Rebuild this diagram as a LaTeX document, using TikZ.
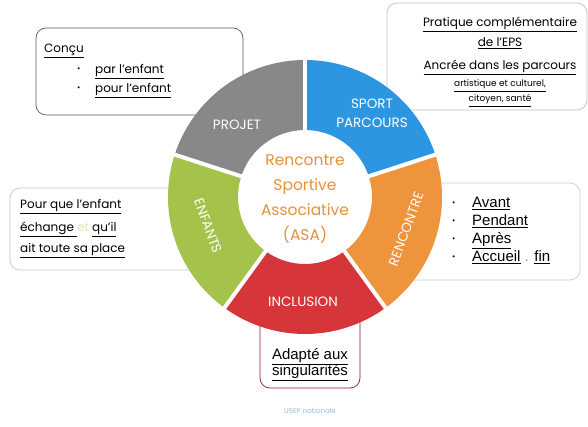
\documentclass[tikz,border=0pt]{standalone}
\usepackage{fontspec}
\setmainfont{Poppins}
\newfontfamily\arialfont{Liberation Sans}
\usetikzlibrary{positioning}
\definecolor{projet}{RGB}{136,136,138}
\definecolor{sport}{RGB}{44,150,226}
\definecolor{rencontre}{RGB}{238,148,60}
\definecolor{inclusion}{RGB}{214,54,58}
\definecolor{enfants}{RGB}{165,194,74}
\definecolor{asa}{RGB}{228,146,58}
\definecolor{usep}{RGB}{150,190,222}
\definecolor{pale}{RGB}{226,226,170}

\begin{document}
\begin{tikzpicture}[x=1pt,y=1pt,
    infobox/.style={draw=#1, fill=white, rounded corners=10pt, line width=0.7pt, inner sep=0pt},
    seglabel/.style={text=white, font=\fontsize{13.5}{19}\selectfont, align=center, inner sep=0pt},
    boxline/.style={anchor=base west, inner sep=0pt, font=\fontsize{12}{14}\selectfont},
    boxlinec/.style={anchor=base, inner sep=0pt, font=\fontsize{12}{14}\selectfont},
    smallline/.style={anchor=base, inner sep=0pt, font=\fontsize{9}{11}\selectfont},
    arialline/.style={anchor=base west, inner sep=0pt, font=\arialfont\fontsize{15}{17}\selectfont},
    dot/.style={anchor=base west, inner sep=0pt, font=\fontsize{8}{9}\selectfont, yshift=2pt},
    gap/.style={white, line width=4pt}
]
    \useasboundingbox (0,0) rectangle (588,427);
    \fill[white] (0,0) rectangle (588,427);

    % Boxes (behind the ring)
    \node[infobox=black!65, minimum width=207pt, minimum height=87pt] (concu) at (139.5,355.5) {};
    \node[infobox=black!25, minimum width=200pt, minimum height=107pt] (pratique) at (487,370.5) {};
    \node[infobox=black!22, minimum width=190pt, minimum height=82pt] (pour) at (105,198) {};
    \node[infobox=rencontre!35!black!25, minimum width=180pt, minimum height=97pt] (avant) at (490,195.5) {};
    \node[infobox=inclusion!60!black, minimum width=100pt, minimum height=78pt] (adapte) at (310,78) {};

    % Ring
    \coordinate (c) at (305,230);
    \foreach \a/\b/\col in {162/90/projet,90/18/sport,18/-54/rencontre,-54/-126/inclusion,-126/-198/enfants}
        \fill[\col] ([shift={(\a:137)}]c) arc[start angle=\a, end angle=\b, radius=137pt]
            -- ([shift={(\b:67)}]c) arc[start angle=\b, end angle=\a, radius=67pt] -- cycle;
    \foreach \a in {90,18,-54,-126,-198}
        \draw[gap] ([shift={(\a:64)}]c) -- ([shift={(\a:140)}]c);

    % Ring labels
    \node[seglabel] (projetl) at (237,302) {PROJET};
    \node[seglabel] (sportl) at (372,314) {SPORT\\PARCOURS};
    \node[seglabel, rotate=70] (rencontrel) at (406,198) {RENCONTRE};
    \node[seglabel] (inclusionl) at (303,125) {INCLUSION};
    \node[seglabel, rotate=-70] (enfantsl) at (208,201) {ENFANTS};
    \node[text=asa, align=center, font=\fontsize{15.5}{25}\selectfont] (asa) at (305,228) {Rencontre\\Sportive\\Associative\\(ASA)};

    % Box texts
    \node[boxline] (concut) at (44,374) {\underline{Conçu}};
    \node[dot] (b1) at (77,353) {\textbullet};
    \node[boxline] (par) at (95,353) {\underline{par l'enfant}};
    \node[dot] (b2) at (77,334) {\textbullet};
    \node[boxline] (pourl) at (95,334) {\underline{pour l'enfant}};

    \node[boxlinec] (p1) at (500,400) {\underline{Pratique complémentaire}};
    \node[boxlinec] (p2) at (500,380) {\underline{de l'EPS}};
    \node[boxlinec] (p3) at (500,357) {\underline{Ancrée dans les parcours}};
    \node[smallline] (p4) at (500,340) {\underline{artistique et culturel,}};
    \node[smallline] (p5) at (500,325) {\underline{citoyen, santé}};

    \node[boxline] (e1) at (20,218) {\underline{Pour que l'enfant}};
    \node[boxline] (e2) at (20,195) {\underline{échange }\textcolor{pale}{et} \underline{qu'il}};
    \node[boxline] (e3) at (20,174) {\underline{ait toute sa place}};

    \foreach \y/\t [count=\i] in {219/Avant,201/Pendant,183/Après}{
        \node[dot] (d\i) at (452,\y) {\textbullet};
        \node[arialline] (dt\i) at (472,\y) {\underline{\t}};
    }
    \node[dot] (d4) at (452,165) {\textbullet};
    \node[arialline] (dt4) at (472,165) {\underline{Accueil} \textcolor{black!40}{.} \underline{fin}};

    \node[arialline, anchor=base] (a1) at (310,67) {\underline{Adapté aux}};
    \node[arialline, anchor=base] (a2) at (310,51) {\underline{singularités}};

    \node[text=usep, font=\fontsize{7}{8}\selectfont] (usep) at (310,16) {USEP nationale};
\end{tikzpicture}
\end{document}
